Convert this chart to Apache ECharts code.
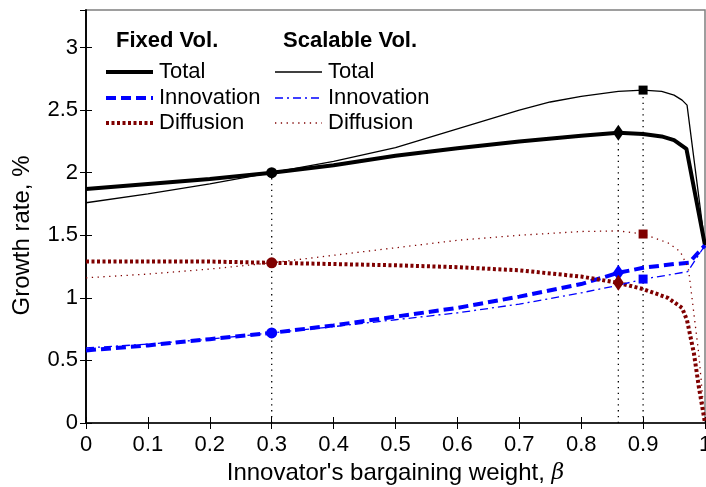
<!DOCTYPE html>
<html><head><meta charset="utf-8">
<script src="https://cdn.jsdelivr.net/npm/echarts@6/dist/echarts.min.js"></script>
<style>html,body{margin:0;padding:0;background:#fff}#c{width:706px;height:487px}</style>
</head><body><div id="c"></div>
<script>
// ---- data ----
const fixedX = [0,0.1,0.2,0.3,0.4,0.5,0.6,0.7,0.8,0.86,0.9,0.93,0.95,0.97,1];
const fixedTotal = [1.87,1.91,1.95,2.0,2.06,2.135,2.195,2.25,2.295,2.32,2.31,2.29,2.26,2.19,1.42];
const fixedInnovX = [0,0.1,0.2,0.3,0.4,0.5,0.6,0.7,0.8,0.86,0.9,0.95,0.974,1];
const fixedInnov = [0.58,0.62,0.67,0.72,0.78,0.85,0.92,1.01,1.11,1.2,1.24,1.27,1.28,1.42];
const fixedDiffX = [0,0.1,0.2,0.3,0.4,0.5,0.6,0.7,0.8,0.86,0.9,0.94,0.963,0.971,0.982,0.99,1];
const fixedDiff = [1.29,1.29,1.29,1.28,1.27,1.26,1.245,1.22,1.17,1.12,1.07,1.0,0.92,0.82,0.56,0.29,0];
const scalX = [0,0.1,0.2,0.3,0.4,0.5,0.6,0.7,0.75,0.8,0.86,0.9,0.93,0.95,0.963,0.971,1];
const scalTotal = [1.76,1.83,1.91,2.0,2.09,2.2,2.35,2.5,2.565,2.61,2.65,2.66,2.65,2.62,2.58,2.54,1.42];
const scalInnovX = [0,0.1,0.2,0.3,0.4,0.5,0.6,0.7,0.8,0.86,0.9,0.95,0.972,1];
const scalInnov = [0.6,0.63,0.67,0.72,0.77,0.825,0.88,0.95,1.04,1.10,1.15,1.19,1.21,1.42];
const scalDiffX = [0,0.1,0.2,0.3,0.4,0.5,0.6,0.7,0.8,0.86,0.9,0.94,0.96,0.973,0.979,0.99,1];
const scalDiff = [1.16,1.19,1.23,1.28,1.34,1.40,1.46,1.50,1.53,1.535,1.51,1.44,1.37,1.24,1.0,0.55,0];
// markers
const circleX = 0.3;  const circleY = [2.0, 0.72, 1.28];        // total, innovation, diffusion
const diamondX = 0.86; const diamondY = [2.32, 1.2, 1.12];
const squareX = 0.9;  const squareY = [2.66, 1.15, 1.51];
const xTicks = [0,0.1,0.2,0.3,0.4,0.5,0.6,0.7,0.8,0.9,1];
const yTicks = [0,0.5,1,1.5,2,2.5,3];
const legendRows = ['Total','Innovation','Diffusion'];
const legendHeads = ['Fixed Vol.','Scalable Vol.'];

const FONT = '"Liberation Sans", Arial, Helvetica, sans-serif';
const BLACK = '#000', BLUE = '#0000ff', RED = '#7f0000';
const zip = (xs, ys) => xs.map((x, i) => [x, ys[i]]);

const chart = echarts.init(document.getElementById('c'));
const colors = [BLACK, BLUE, RED];

const lineSeries = [
  {d: zip(fixedX, fixedTotal), c: BLACK, w: 4, t: 'solid'},
  {d: zip(fixedInnovX, fixedInnov), c: BLUE, w: 4, t: [10,5]},
  {d: zip(fixedDiffX, fixedDiff), c: RED, w: 4, t: [3,2.5]},
  {d: zip(scalX, scalTotal), c: BLACK, w: 1.3, t: 'solid'},
  {d: zip(scalInnovX, scalInnov), c: BLUE, w: 1.3, t: [8,4,2,4]},
  {d: zip(scalDiffX, scalDiff), c: RED, w: 1.3, t: [1.3,4.5]}
].map(s => ({type:'line', data:s.d, symbol:'none', silent:true, z:3,
  lineStyle:{color:s.c, width:s.w, type:s.t, cap:'butt'}}));

const guides = [[circleX, circleY[0]],[diamondX, diamondY[0]],[squareX, squareY[0]]].map(p => ({
  type:'line', data:[[p[0],0],[p[0],p[1]]], symbol:'none', silent:true, z:2,
  lineStyle:{color:BLACK, width:1.3, type:[1.3,4.5]}}));

const markers = [];
colors.forEach((c, i) => {
  markers.push({type:'scatter', data:[[circleX, circleY[i]]], symbol:'circle', symbolSize:11, itemStyle:{color:c, opacity:1}, z:5, silent:true});
  markers.push({type:'scatter', data:[[diamondX, diamondY[i]]], symbol:'diamond', symbolSize:[11,16], itemStyle:{color:c, opacity:1}, z:5, silent:true});
  markers.push({type:'scatter', data:[[squareX, squareY[i]]], symbol:'rect', symbolSize:9, itemStyle:{color:c, opacity:1}, z:5, silent:true});
});

// legend drawn with graphic
const legendStyles = [
  [{c:BLACK,w:4,t:'solid'},{c:BLUE,w:4,t:[10,5]},{c:RED,w:4,t:[3,2.5]}],
  [{c:BLACK,w:1.3,t:'solid'},{c:BLUE,w:1.3,t:[8,4,2,4]},{c:RED,w:1.3,t:[1.3,4.5]}]
];
const graphics = [];
const colX = [106, 275], headX = [116, 283], rowY = [72, 98, 123];
legendHeads.forEach((h, k) => {
  graphics.push({type:'text', left:headX[k], top:30, style:{text:h, font:'bold 22px ' + FONT, fill:'#000'}});
  legendRows.forEach((r, j) => {
    const s = legendStyles[k][j];
    graphics.push({type:'line', shape:{x1:colX[k], y1:rowY[j], x2:colX[k]+47, y2:rowY[j]},
      style:{stroke:s.c, lineWidth:s.w, lineDash:s.t === 'solid' ? null : s.t}});
    graphics.push({type:'text', x:colX[k]+53, y:rowY[j], style:{text:r, font:'22px ' + FONT, fill:'#000', verticalAlign:'middle'}});
  });
});

const fmt = v => String(Math.round(v * 10) / 10);

chart.setOption({
  animation:false,
  backgroundColor:'#fff',
  grid:{left:86, right:1, top:10, bottom:64, show:true, borderColor:'#7f7f7f', borderWidth:1.5, containLabel:false, outerBoundsMode:'none'},
  xAxis:[{
    type:'value', min:0, max:1, interval:0.1, position:'bottom',
    name:"Innovator's bargaining weight, {b|β}", nameLocation:'middle', nameGap:33,
    nameTextStyle:{fontFamily:FONT, fontSize:24, color:'#000', rich:{b:{fontFamily:'DejaVu Serif', fontStyle:'italic', fontSize:22}}},
    axisLine:{show:true, onZero:false, lineStyle:{color:'#000', width:1.5}},
    axisTick:{show:true, inside:true, length:6, lineStyle:{color:'#000'}},
    axisLabel:{fontFamily:FONT, fontSize:22, color:'#000', margin:11, formatter:fmt},
    splitLine:{show:false}
  },{
    type:'value', min:0, max:1, interval:0.1, position:'top',
    axisLine:{show:false}, axisTick:{show:true, inside:true, length:6, lineStyle:{color:'#000'}},
    axisLabel:{show:false}, splitLine:{show:false}
  }],
  yAxis:[{
    type:'value', min:0, max:3.3, interval:0.5, position:'left',
    name:'Growth rate, %', nameLocation:'middle', nameGap:52,
    nameTextStyle:{fontFamily:FONT, fontSize:24, color:'#000', padding:[0,38,0,0]},
    axisLine:{show:true, onZero:false, lineStyle:{color:'#000', width:1.5}},
    axisTick:{show:true, inside:true, length:6, lineStyle:{color:'#000'}},
    axisLabel:{fontFamily:FONT, fontSize:22, color:'#000', margin:8, showMaxLabel:false, formatter:v => String(v)},
    splitLine:{show:false}
  },{
    type:'value', min:0, max:3.3, interval:0.5, position:'right',
    axisLine:{show:true, lineStyle:{color:'#000', width:1.5}}, axisTick:{show:true, inside:true, length:6, lineStyle:{color:'#000'}},
    axisLabel:{show:false}, splitLine:{show:false}
  }],
  graphic:graphics,
  series:[...guides, ...lineSeries, ...markers]
});
</script></body></html>
